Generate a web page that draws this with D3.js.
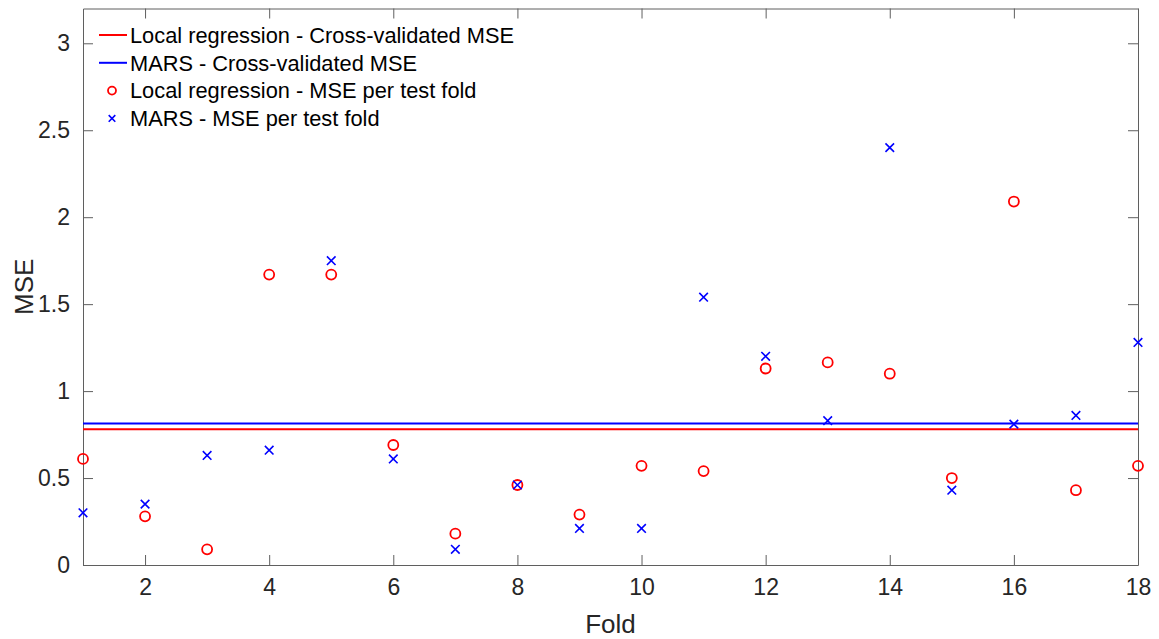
<!DOCTYPE html>
<html>
<head>
<meta charset="utf-8">
<script src="https://cdn.jsdelivr.net/npm/d3@7"></script>
<style>
  html, body { margin: 0; padding: 0; background: #fff; }
  svg { display: block; font-family: "Liberation Sans", Arial, Helvetica, sans-serif; }
</style>
</head>
<body>
<svg id="chart" width="1159" height="639"></svg>
<script>
// Per-fold test MSE for the two models, and their cross-validated averages
const folds = d3.range(1, 19);
const localMSE = [0.61, 0.28, 0.09, 1.67, 1.67, 0.69, 0.18, 0.46, 0.29, 0.57, 0.54, 1.13, 1.165, 1.10, 0.50, 2.09, 0.43, 0.57];
const marsMSE  = [0.30, 0.35, 0.63, 0.66, 1.75, 0.61, 0.09, 0.46, 0.21, 0.21, 1.54, 1.20, 0.83, 2.40, 0.43, 0.81, 0.86, 1.28];
const localCV = 0.78;
const marsCV = 0.814;
const xTicks = [2, 4, 6, 8, 10, 12, 14, 16, 18];
const yTicks = [0, 0.5, 1, 1.5, 2, 2.5, 3];
const legendLabels = [
  "Local regression - Cross-validated MSE",
  "MARS - Cross-validated MSE",
  "Local regression - MSE per test fold",
  "MARS - MSE per test fold"
];

const RED = "#ff0000", BLUE = "#0000ff", INK = "#262626", AXIS = "#5f5f5f";
const svg = d3.select("#chart");
const m = { left: 83, right: 1138, top: 8.5, bottom: 565 };

const x = d3.scaleLinear().domain([1, 18]).range([m.left, m.right]);
const y = d3.scaleLinear().domain([0, 3.2]).range([m.bottom, m.top]);

// Box and inward ticks on all four sides
const tickLen = 10;
const bottomAxis = d3.axisBottom(x).tickValues(xTicks).tickSizeInner(-tickLen).tickSizeOuter(0).tickPadding(14);
const topAxis = d3.axisTop(x).tickValues(xTicks).tickSizeInner(-tickLen).tickSizeOuter(0).tickFormat("");
const leftAxis = d3.axisLeft(y).tickValues(yTicks).tickSizeInner(-tickLen).tickSizeOuter(0).tickPadding(13).tickFormat(d3.format("~g"));
const rightAxis = d3.axisRight(y).tickValues(yTicks).tickSizeInner(-tickLen).tickSizeOuter(0).tickFormat("");

function styleAxis(g) {
  g.select(".domain").attr("stroke", AXIS).attr("stroke-width", 1);
  g.selectAll(".tick line").attr("stroke", AXIS).attr("stroke-width", 1);
  g.selectAll(".tick text").attr("fill", INK).style("font-size", "23px").attr("font-family", null);
}

svg.append("g").attr("transform", `translate(0,${m.bottom})`).call(bottomAxis).call(styleAxis)
  .selectAll(".tick text").attr("dy", "0.71em");
svg.append("g").attr("transform", `translate(0,${m.top})`).call(topAxis).call(styleAxis);
svg.append("g").attr("transform", `translate(${m.left},0)`).call(leftAxis).call(styleAxis);
svg.append("g").attr("transform", `translate(${m.right},0)`).call(rightAxis).call(styleAxis);

// Axis titles
svg.append("text")
  .attr("x", (m.left + m.right) / 2).attr("y", 633)
  .attr("text-anchor", "middle").attr("fill", INK).style("font-size", "26px")
  .text("Fold");
svg.append("text")
  .attr("transform", `translate(33,${(m.top + m.bottom) / 2}) rotate(-90)`)
  .attr("text-anchor", "middle").attr("fill", INK).style("font-size", "26px")
  .text("MSE");

// Cross-validated averages
const cvLines = [{ v: localCV, c: RED }, { v: marsCV, c: BLUE }];
svg.append("g").selectAll("line").data(cvLines).join("line")
  .attr("x1", m.left).attr("x2", m.right)
  .attr("y1", d => y(d.v)).attr("y2", d => y(d.v))
  .attr("stroke", d => d.c).attr("stroke-width", 2);

// Per-fold markers
const plot = svg.append("g");
plot.selectAll("circle").data(folds).join("circle")
  .attr("cx", d => x(d)).attr("cy", (d, i) => y(localMSE[i]))
  .attr("r", 5).attr("fill", "none").attr("stroke", RED).attr("stroke-width", 1.8);

const crossPath = s => `M${-s},${-s}L${s},${s}M${-s},${s}L${s},${-s}`;
plot.selectAll("path.mars").data(folds).join("path").attr("class", "mars")
  .attr("transform", (d, i) => `translate(${x(d)},${y(marsMSE[i])})`)
  .attr("d", crossPath(4.3)).attr("stroke", BLUE).attr("stroke-width", 1.6).attr("fill", "none");

// Legend
const lg = svg.append("g");
const rowY = i => 35 + i * 27.8;
const textX = 130;
legendLabels.forEach((label, i) => {
  const cy = rowY(i);
  if (i === 0 || i === 1) {
    lg.append("line").attr("x1", 99).attr("x2", 127).attr("y1", cy).attr("y2", cy)
      .attr("stroke", i === 0 ? RED : BLUE).attr("stroke-width", 2);
  } else if (i === 2) {
    lg.append("circle").attr("cx", 112).attr("cy", cy).attr("r", 4)
      .attr("fill", "none").attr("stroke", RED).attr("stroke-width", 1.8);
  } else {
    lg.append("path").attr("transform", `translate(112,${cy})`).attr("d", crossPath(3.3))
      .attr("stroke", BLUE).attr("stroke-width", 1.6);
  }
  lg.append("text").attr("x", textX).attr("y", cy).attr("dy", "0.36em")
    .attr("fill", "#000").style("font-size", "21.8px").text(label);
});
</script>
</body>
</html>
